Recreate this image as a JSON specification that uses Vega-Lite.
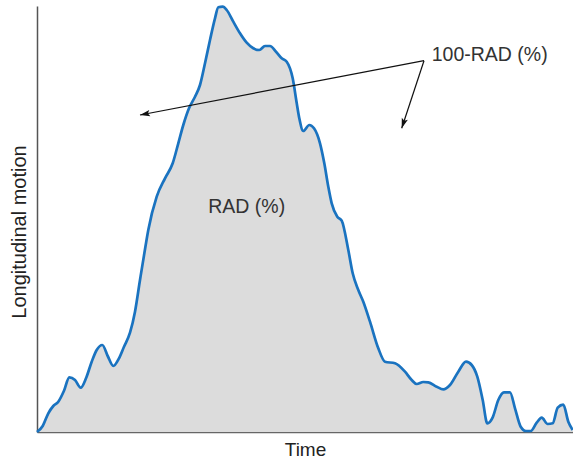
{
  "$schema": "https://vega.github.io/schema/vega-lite/v6.json",
  "width": 536,
  "height": 426,
  "autosize": {"type": "none"},
  "padding": {"left": 37, "top": 6, "right": 0, "bottom": 27},
  "background": "white",
  "config": {"view": {"stroke": null}},
  "datasets": {
    "curve": [
      {"t": 0, "v": 0}, {"t": 5.7, "v": 6}, {"t": 11.3, "v": 18.7}, {"t": 16.3, "v": 26}, {"t": 21.3, "v": 30.3},
      {"t": 27, "v": 41.3}, {"t": 32.3, "v": 54.7}, {"t": 38, "v": 52}, {"t": 43.7, "v": 44.3}, {"t": 49, "v": 53.7},
      {"t": 54.7, "v": 70.3}, {"t": 59.7, "v": 82}, {"t": 65.3, "v": 87}, {"t": 70.7, "v": 76}, {"t": 76.3, "v": 66},
      {"t": 82, "v": 73.7}, {"t": 87, "v": 85.3}, {"t": 93, "v": 99.3}, {"t": 98, "v": 120.3}, {"t": 103, "v": 152},
      {"t": 108.7, "v": 187}, {"t": 111.3, "v": 202}, {"t": 119.7, "v": 235.3}, {"t": 128, "v": 253.7}, {"t": 135.7, "v": 268.7},
      {"t": 141.3, "v": 288.7}, {"t": 146.3, "v": 307}, {"t": 152, "v": 323.7}, {"t": 158, "v": 335.3}, {"t": 163, "v": 347},
      {"t": 168, "v": 368.7}, {"t": 173, "v": 392}, {"t": 178, "v": 413.7}, {"t": 181.3, "v": 424.7}, {"t": 185.7, "v": 425.3},
      {"t": 189.7, "v": 422}, {"t": 196.3, "v": 410.3}, {"t": 203, "v": 398.7}, {"t": 209.7, "v": 389.3}, {"t": 216.3, "v": 383.7},
      {"t": 222.3, "v": 382}, {"t": 228, "v": 386}, {"t": 233, "v": 386}, {"t": 239, "v": 380.3}, {"t": 244.7, "v": 373.7},
      {"t": 249.7, "v": 370.3}, {"t": 255.7, "v": 353.7}, {"t": 259.7, "v": 329}, {"t": 262.3, "v": 313.7}, {"t": 266.3, "v": 301},
      {"t": 272.3, "v": 307}, {"t": 277, "v": 303.7}, {"t": 283, "v": 288.7}, {"t": 287.3, "v": 268.7}, {"t": 291.3, "v": 245.3},
      {"t": 294.7, "v": 228.7}, {"t": 300.3, "v": 215.3}, {"t": 304.7, "v": 211.3}, {"t": 311.3, "v": 182}, {"t": 315.7, "v": 158.7},
      {"t": 321.3, "v": 142}, {"t": 326.3, "v": 130.3}, {"t": 333, "v": 110.3}, {"t": 341.3, "v": 83.7}, {"t": 348, "v": 70.3},
      {"t": 358, "v": 68.7}, {"t": 368, "v": 60.3}, {"t": 374.7, "v": 52}, {"t": 379.7, "v": 48}, {"t": 386.3, "v": 50},
      {"t": 391.3, "v": 49.7}, {"t": 399.7, "v": 45.3}, {"t": 406.3, "v": 42.7}, {"t": 413, "v": 47}, {"t": 421.3, "v": 60.3},
      {"t": 429, "v": 70.3}, {"t": 434.7, "v": 67}, {"t": 440.3, "v": 55.3}, {"t": 445.7, "v": 32}, {"t": 450.3, "v": 8.7},
      {"t": 455.7, "v": 14.7}, {"t": 461.3, "v": 32}, {"t": 467, "v": 39.7}, {"t": 473, "v": 39.7}, {"t": 478, "v": 23.7},
      {"t": 483.7, "v": 5.3}, {"t": 489, "v": 1}, {"t": 493.7, "v": 1}, {"t": 499.7, "v": 9.3}, {"t": 504.7, "v": 14.3},
      {"t": 510.7, "v": 8}, {"t": 515.7, "v": 8.7}, {"t": 520.7, "v": 24.3}, {"t": 526.3, "v": 27.3}, {"t": 531.3, "v": 10.3},
      {"t": 535.7, "v": 2}
    ],
    "arrows": [
      {"t": 387, "v": 371.3, "t2": 103, "v2": 317},
      {"t": 387, "v": 371.3, "t2": 364.7, "v2": 303.7}
    ],
    "labels": [
      {"t": 209.7, "v": 219, "label": "RAD (%)", "kind": "inner"},
      {"t": 394.7, "v": 371, "label": "100-RAD (%)", "kind": "outer"}
    ]
  },
  "layer": [
    {
      "data": {"name": "curve"},
      "mark": {"type": "area", "color": "#dcdcdc", "interpolate": "monotone"},
      "encoding": {
        "x": {
          "field": "t", "type": "quantitative",
          "scale": {"domain": [0, 536], "nice": false, "zero": false},
          "axis": {
            "title": "Time", "labels": false, "ticks": false, "grid": false,
            "domainColor": "#666", "domainWidth": 1.5,
            "titleFont": "Liberation Sans", "titleFontSize": 19, "titleFontWeight": "normal",
            "titleColor": "#222", "titleBaseline": "alphabetic", "titleY": 23.5
          }
        },
        "y": {
          "field": "v", "type": "quantitative",
          "scale": {"domain": [0, 426], "nice": false, "zero": false},
          "axis": {
            "title": "Longitudinal motion", "labels": false, "ticks": false, "grid": false,
            "domainColor": "#555", "domainWidth": 1.5,
            "titleFont": "Liberation Sans", "titleFontSize": 20, "titleFontWeight": "normal",
            "titleColor": "#222", "titleBaseline": "alphabetic", "titleAngle": 270,
            "titleX": -11.5, "titleY": 225.5, "titleAlign": "center"
          }
        }
      }
    },
    {
      "data": {"name": "curve"},
      "mark": {"type": "line", "color": "#1a73c0", "strokeWidth": 2.7, "interpolate": "monotone"},
      "encoding": {
        "x": {"field": "t", "type": "quantitative"},
        "y": {"field": "v", "type": "quantitative"}
      }
    },
    {
      "mark": {"type": "rule", "color": "#888", "strokeWidth": 1.5},
      "encoding": {"y": {"datum": 426}}
    },
    {
      "data": {"name": "arrows"},
      "mark": {"type": "rule", "color": "#111", "strokeWidth": 1.2},
      "encoding": {
        "x": {"field": "t", "type": "quantitative"},
        "y": {"field": "v", "type": "quantitative"},
        "x2": {"field": "t2"},
        "y2": {"field": "v2"}
      }
    },
    {
      "data": {"name": "arrows"},
      "transform": [{"filter": "datum.t2 < 200"}],
      "mark": {"type": "point", "shape": "M0,0 L-1,-0.32 L-0.8,0 L-1,0.32 Z", "filled": true, "color": "#111", "opacity": 1, "size": 400, "angle": 169.2},
      "encoding": {
        "x": {"field": "t2", "type": "quantitative"},
        "y": {"field": "v2", "type": "quantitative"}
      }
    },
    {
      "data": {"name": "arrows"},
      "transform": [{"filter": "datum.t2 > 200"}],
      "mark": {"type": "point", "shape": "M0,0 L-1,-0.32 L-0.8,0 L-1,0.32 Z", "filled": true, "color": "#111", "opacity": 1, "size": 400, "angle": 108.3},
      "encoding": {
        "x": {"field": "t2", "type": "quantitative"},
        "y": {"field": "v2", "type": "quantitative"}
      }
    },
    {
      "data": {"name": "labels"},
      "transform": [{"filter": "datum.kind == 'inner'"}],
      "mark": {"type": "text", "font": "Liberation Sans", "fontSize": 19.5, "color": "#333", "align": "center", "baseline": "alphabetic"},
      "encoding": {
        "x": {"field": "t", "type": "quantitative"},
        "y": {"field": "v", "type": "quantitative"},
        "text": {"field": "label"}
      }
    },
    {
      "data": {"name": "labels"},
      "transform": [{"filter": "datum.kind == 'outer'"}],
      "mark": {"type": "text", "font": "Liberation Sans", "fontSize": 19.5, "color": "#333", "align": "left", "baseline": "alphabetic"},
      "encoding": {
        "x": {"field": "t", "type": "quantitative"},
        "y": {"field": "v", "type": "quantitative"},
        "text": {"field": "label"}
      }
    }
  ]
}
